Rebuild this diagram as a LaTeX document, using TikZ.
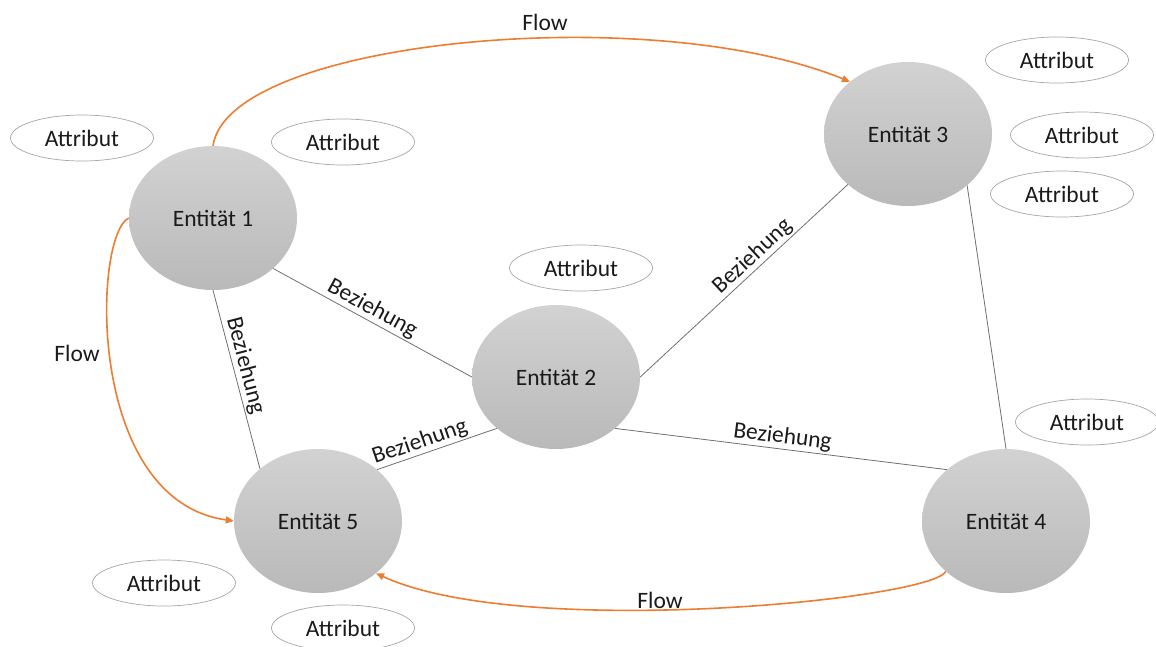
\documentclass[tikz,border=0pt]{standalone}
\usepackage{fontspec}
\setmainfont{Carlito}
\usetikzlibrary{arrows.meta,shapes.geometric}

\definecolor{flow}{HTML}{ED7D31}
\definecolor{linkgray}{HTML}{6F6F6F}
\definecolor{attrline}{HTML}{A6A6A6}
\definecolor{ink}{HTML}{1A1A1A}
\definecolor{entitytop}{HTML}{D2D2D2}
\definecolor{entitybottom}{HTML}{B9B9B9}

\newcommand{\labelfont}{\fontsize{23.5}{28}\selectfont}

\begin{document}
\begin{tikzpicture}[x=1pt,y=-1pt,
  entity/.style={ellipse, minimum width=168pt, minimum height=144pt, inner sep=0pt,
    top color=entitytop, bottom color=entitybottom, draw=none, text=ink, font=\labelfont},
  attr/.style={ellipse, minimum width=143pt, minimum height=46pt, inner sep=0pt,
    draw=attrline, line width=0.7pt, fill=white, text=ink, font=\labelfont},
  rel/.style={draw=linkgray, line width=0.8pt},
  rellabel/.style={sloped, above, inner sep=1.5pt, text=ink, font=\labelfont},
  flowarrow/.style={draw=flow, line width=1.6pt, -{Triangle[length=8pt,width=7pt]}},
  flowlabel/.style={inner sep=0pt, text=ink, font=\labelfont}]

\useasboundingbox (0,0) rectangle (1156,646);

% attributes
\node[attr] (a1) at (82,138)   {Attribut};
\node[attr] (a2) at (343,142)  {Attribut};
\node[attr] (a3) at (581,268)  {Attribut};
\node[attr] (a4) at (1057,60)  {Attribut};
\node[attr] (a5) at (1082,135) {Attribut};
\node[attr] (a6) at (1062,194) {Attribut};
\node[attr] (a7) at (1087,422) {Attribut};
\node[attr] (a8) at (164,583)  {Attribut};
\node[attr] (a9) at (343,628)  {Attribut};

% entities
\node[entity] (e1) at (213,218)  {Entität 1};
\node[entity] (e2) at (556,377)  {Entität 2};
\node[entity] (e3) at (908,134)  {Entität 3};
\node[entity] (e4) at (1006,521) {Entität 4};
\node[entity] (e5) at (318,521)  {Entität 5};

% relationships
\draw[rel] (e1.-40) -- node[rellabel, pos=0.47] {Beziehung} (e2.180);
\draw[rel] (e1.-90) -- node[rellabel, pos=0.44] {Beziehung} (e5.138);
\draw[rel] (e5.41) -- node[rellabel, pos=0.39] {Beziehung} (e2.-139);
\draw[rel] (e2.0) -- node[rellabel, pos=0.58] {Beziehung} (e3.-140);
\draw[rel] (e2.-41) -- node[rellabel, pos=0.5] {Beziehung} (e4.139);
\draw[rel] (e3.-41) -- (e4.90);

% flows
\draw[flowarrow] (e1.90) .. controls (228,40) and (650,0) .. (e3.138);
\draw[flowarrow] (e1.180) .. controls (93,235) and (85,500) .. (e5.180);
\draw[flowarrow] (e4.-140) .. controls (930,600) and (520,640) .. (e5.-42);

\node[flowlabel] (f1) at (545,22)  {Flow};
\node[flowlabel] (f2) at (77,353)  {Flow};
\node[flowlabel] (f3) at (660,600) {Flow};
\end{tikzpicture}
\end{document}
